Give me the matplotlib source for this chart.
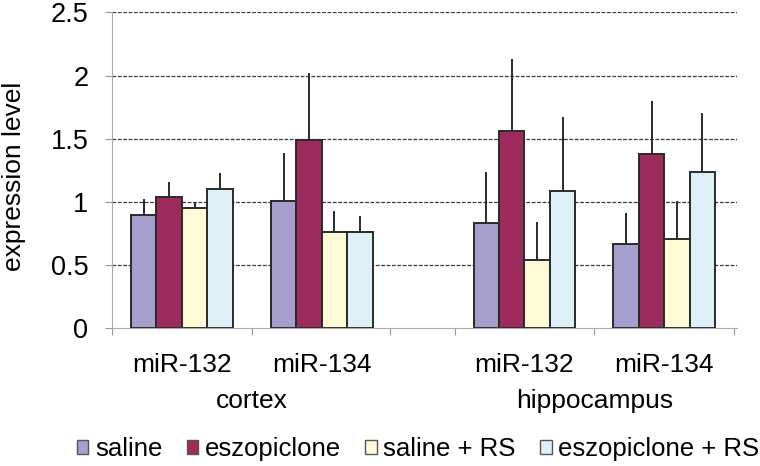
import matplotlib
matplotlib.use('Agg')
import matplotlib.pyplot as plt
import numpy as np
from matplotlib.patches import Patch
from matplotlib.transforms import blended_transform_factory

plt.rcParams['font.family'] = ['Liberation Sans', 'DejaVu Sans']

# data
groups = ["cortex", "hippocampus"]
genes = ["miR-132", "miR-134", "miR-132", "miR-134"]
series = ["saline", "eszopiclone", "saline + RS", "eszopiclone + RS"]
colors = ["#a49fcd", "#9e2b5d", "#fffad6", "#def0f7"]

saline = [0.90, 1.01, 0.83, 0.67]
eszopiclone = [1.04, 1.49, 1.56, 1.38]
saline_rs = [0.95, 0.76, 0.54, 0.71]
eszopiclone_rs = [1.10, 0.76, 1.09, 1.24]

saline_err = [0.12, 0.38, 0.41, 0.24]
eszopiclone_err = [0.12, 0.53, 0.57, 0.42]
saline_rs_err = [0.05, 0.17, 0.30, 0.30]
eszopiclone_rs_err = [0.13, 0.13, 0.58, 0.46]

values = [saline, eszopiclone, saline_rs, eszopiclone_rs]
errors = [saline_err, eszopiclone_err, saline_rs_err, eszopiclone_rs_err]

centers = np.array([0.5, 1.5, 2.95, 3.95])
boundaries = [0, 1, 1.99, 2.45, 3.45, 4.45]
width = 0.182

fig = plt.figure(figsize=(7.6, 4.66), dpi=100)
ax = fig.add_axes([0.1474, 0.2955, 0.8223, 0.678])

for k in range(4):
    x = centers + (k - 1.5) * width
    ax.bar(x, values[k], width=width, color=colors[k], edgecolor='#2a2a2a',
           linewidth=1.4, zorder=2)
    ax.errorbar(x, values[k], yerr=[np.zeros(4), errors[k]], fmt='none',
                ecolor='#2a2a2a', elinewidth=1.4, capsize=0, zorder=3)

ax.set_xlim(0, 4.47)
ax.set_ylim(0, 2.5)
ax.set_yticks(np.arange(0, 2.51, 0.5))
ax.set_yticklabels(["0", "0.5", "1", "1.5", "2", "2.5"])
for yv in np.arange(0.5, 2.51, 0.5):
    ax.axhline(yv, color='#3a3a3a', lw=0.9, ls=(0, (3, 1.3)), zorder=1)

ax.set_xticks(boundaries)
ax.set_xticklabels([])
ax.set_xticks(centers, minor=True)
ax.set_xticklabels(genes, minor=True)
ax.tick_params(axis='x', which='major', length=5, color='#999999', direction='out')
ax.tick_params(axis='x', which='minor', length=0, labelsize=19, pad=18)
ax.tick_params(axis='y', length=5, color='#999999', labelsize=19.5, pad=12)

for s in ['top', 'right']:
    ax.spines[s].set_visible(False)
ax.spines['left'].set_color('#aaaaaa')
ax.spines['bottom'].set_color('#aaaaaa')

fig.text(14 / 760, 1 - 176 / 466, "expression level", rotation=90,
         ha='center', va='center', fontsize=19)

trans = blended_transform_factory(ax.transData, fig.transFigure)
ax.text((centers[0] + centers[1]) / 2, 1 - 401 / 466, groups[0], transform=trans,
        ha='center', va='center', fontsize=19)
ax.text((centers[2] + centers[3]) / 2, 1 - 401 / 466, groups[1], transform=trans,
        ha='center', va='center', fontsize=19)

handles = [Patch(facecolor=c, edgecolor='#555555', linewidth=1.0) for c in colors]
fig.legend(handles, series, loc='center', bbox_to_anchor=(418 / 760, 1 - 449 / 466),
           ncol=4, frameon=False, fontsize=18.5, handlelength=0.45, handleheight=0.45,
           handletextpad=0.25, columnspacing=0.95, borderpad=0)

fig.savefig('out.png', dpi=100)
